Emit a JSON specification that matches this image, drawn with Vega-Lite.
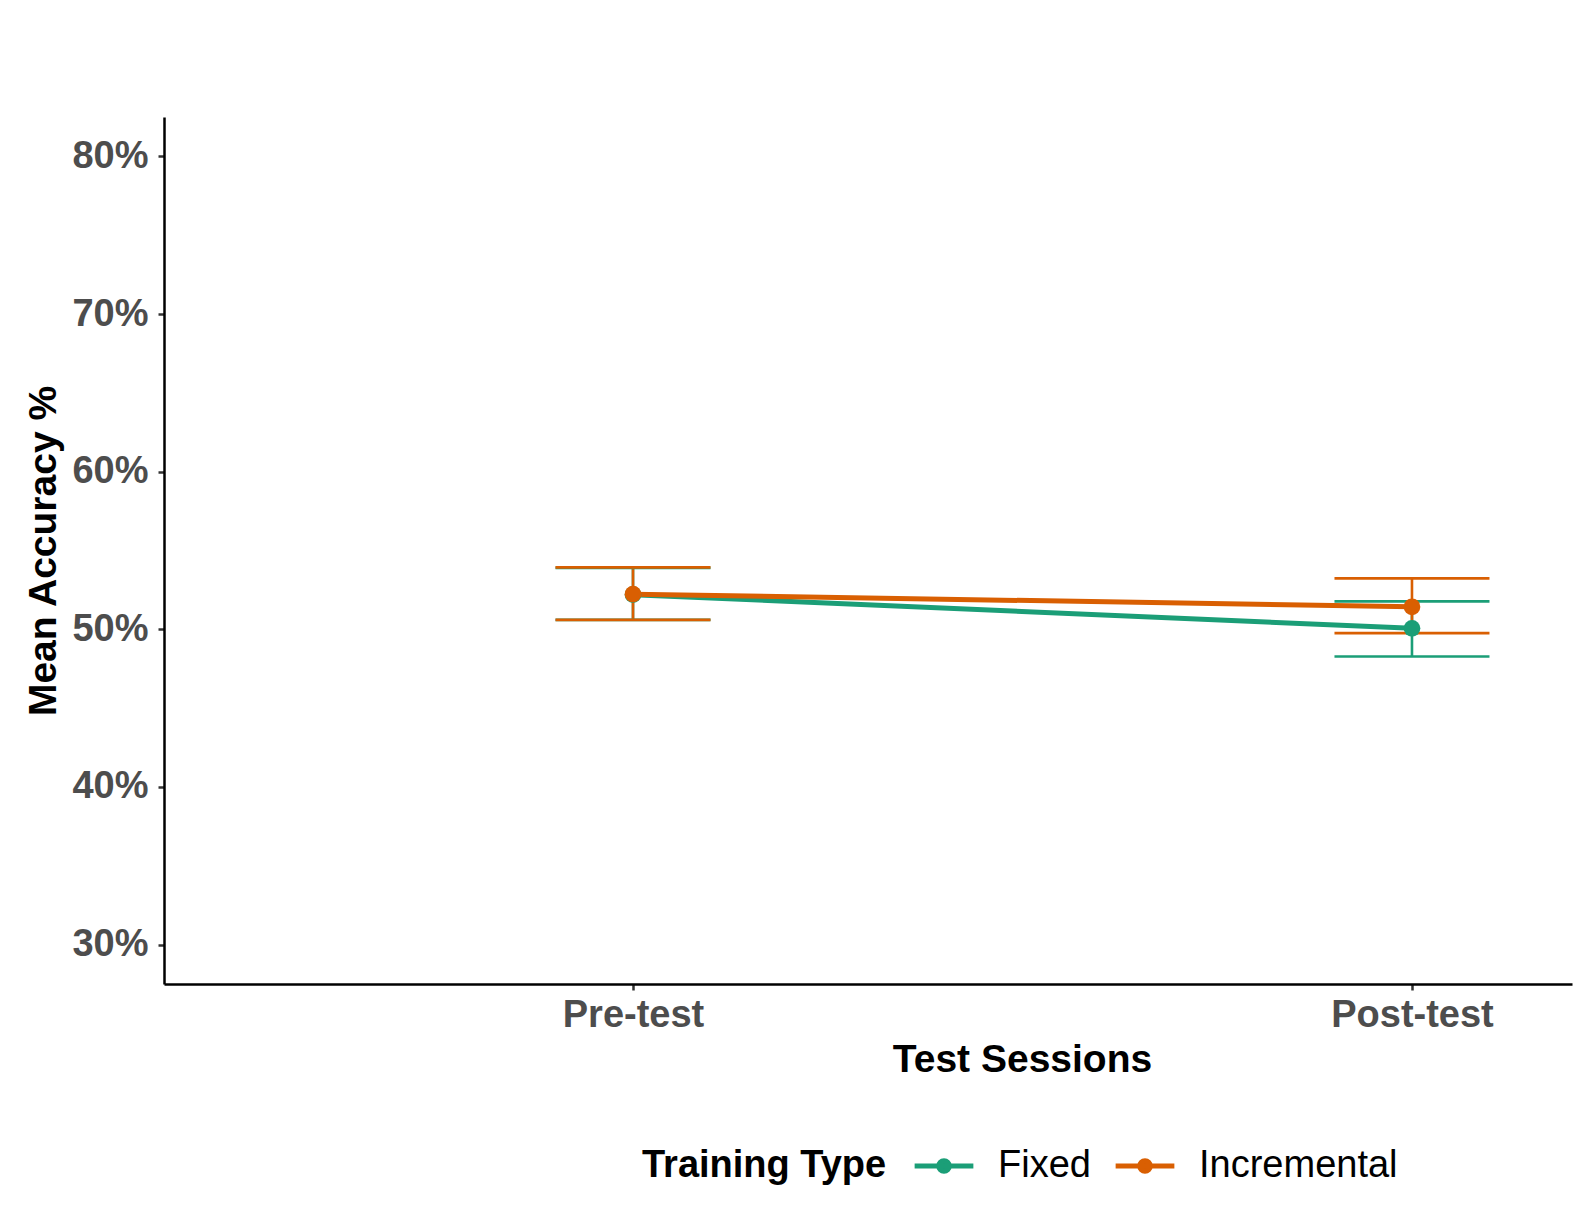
{
  "$schema": "https://vega.github.io/schema/vega-lite/v6.json",
  "width": 1408,
  "height": 867,
  "autosize": {"type": "none"},
  "padding": {"left": 164, "top": 117, "right": 8, "bottom": 239},
  "background": "#ffffff",
  "config": {
    "view": {"stroke": null},
    "font": "Liberation Sans",
    "axis": {
      "grid": false,
      "domainColor": "#000000",
      "domainWidth": 2.5,
      "tickColor": "#333333",
      "tickWidth": 2.5,
      "tickSize": 6,
      "labelFont": "Liberation Sans",
      "labelFontSize": 38,
      "labelFontWeight": "bold",
      "labelColor": "#4d4d4d",
      "titleFont": "Liberation Sans",
      "titleFontSize": 39,
      "titleFontWeight": "bold",
      "titleColor": "#000000"
    }
  },
  "data": {
    "values": [
      {"session": "Pre-test", "type": "Fixed", "mean": 52.2, "lo": 50.6, "hi": 53.9},
      {"session": "Post-test", "type": "Fixed", "mean": 50.06, "lo": 48.28, "hi": 51.77},
      {"session": "Pre-test", "type": "Incremental", "mean": 52.23, "lo": 50.6, "hi": 53.93},
      {"session": "Post-test", "type": "Incremental", "mean": 51.43, "lo": 49.76, "hi": 53.23}
    ]
  },
  "encoding": {
    "x": {
      "field": "session",
      "type": "nominal",
      "sort": ["Pre-test", "Post-test"],
      "scale": {"type": "point", "padding": 0.40375, "align": 0.7456},
      "axis": {"title": "Test Sessions", "labelAngle": 0, "labelPadding": 6, "titlePadding": 6, "titleX": 858}
    },
    "color": {
      "field": "type",
      "type": "nominal",
      "scale": {"domain": ["Fixed", "Incremental"], "range": ["#1b9e77", "#d95f02"]},
      "legend": {
        "title": "Training Type",
        "orient": "none",
        "legendX": 478,
        "legendY": 1017,
        "direction": "horizontal",
        "titleOrient": "left",
        "titleAnchor": "middle",
        "titleBaseline": "middle",
        "titleFont": "Liberation Sans",
        "titleFontSize": 38,
        "titleFontWeight": "bold",
        "titleColor": "#000000",
        "titlePadding": 25,
        "titleLimit": 1000,
        "labelFont": "Liberation Sans",
        "labelFontSize": 38,
        "labelColor": "#000000",
        "labelLimit": 1000,
        "labelOffset": 22,
        "columnPadding": 14,
        "symbolType": "M-1,0H1M-0.18,0A0.18,0.18,0,1,1,0.18,0A0.18,0.18,0,1,1,-0.18,0Z",
        "symbolSize": 3450,
        "symbolStrokeWidth": 5,
        "encode": {
          "title": {
            "update": {
              "dy": {"value": 6}
            }
          },
          "symbols": {
            "update": {
              "stroke": {"scale": "color", "field": "value"},
              "fill": {"scale": "color", "field": "value"},
              "strokeWidth": {"value": 5},
              "opacity": {"value": 1}
            }
          }
        }
      }
    }
  },
  "layer": [
    {
      "mark": {"type": "rule", "strokeWidth": 2.6},
      "encoding": {
        "y": {"field": "lo", "type": "quantitative", "scale": {"domain": [27.5, 82.5], "nice": false, "zero": false},
          "axis": {"title": "Mean Accuracy %", "values": [30, 40, 50, 60, 70, 80], "labelExpr": "datum.value + '%'", "labelPadding": 10, "titlePadding": 8}},
        "y2": {"field": "hi"}
      }
    },
    {
      "mark": {"type": "tick", "size": 155, "thickness": 2.6, "opacity": 1},
      "encoding": {
        "y": {"field": "hi", "type": "quantitative", "scale": {"domain": [27.5, 82.5], "nice": false, "zero": false},
          "axis": {"title": "Mean Accuracy %", "values": [30, 40, 50, 60, 70, 80], "labelExpr": "datum.value + '%'", "labelPadding": 10, "titlePadding": 8}}
      }
    },
    {
      "mark": {"type": "tick", "size": 155, "thickness": 2.6, "opacity": 1},
      "encoding": {
        "y": {"field": "lo", "type": "quantitative", "scale": {"domain": [27.5, 82.5], "nice": false, "zero": false},
          "axis": {"title": "Mean Accuracy %", "values": [30, 40, 50, 60, 70, 80], "labelExpr": "datum.value + '%'", "labelPadding": 10, "titlePadding": 8}}
      }
    },
    {
      "mark": {"type": "line", "strokeWidth": 5},
      "encoding": {
        "y": {"field": "mean", "type": "quantitative", "scale": {"domain": [27.5, 82.5], "nice": false, "zero": false},
          "axis": {"title": "Mean Accuracy %", "values": [30, 40, 50, 60, 70, 80], "labelExpr": "datum.value + '%'", "labelPadding": 10, "titlePadding": 8}}
      }
    },
    {
      "mark": {"type": "point", "filled": true, "size": 280, "opacity": 1},
      "encoding": {
        "y": {"field": "mean", "type": "quantitative", "scale": {"domain": [27.5, 82.5], "nice": false, "zero": false},
          "axis": {"title": "Mean Accuracy %", "values": [30, 40, 50, 60, 70, 80], "labelExpr": "datum.value + '%'", "labelPadding": 10, "titlePadding": 8}}
      }
    }
  ]
}
